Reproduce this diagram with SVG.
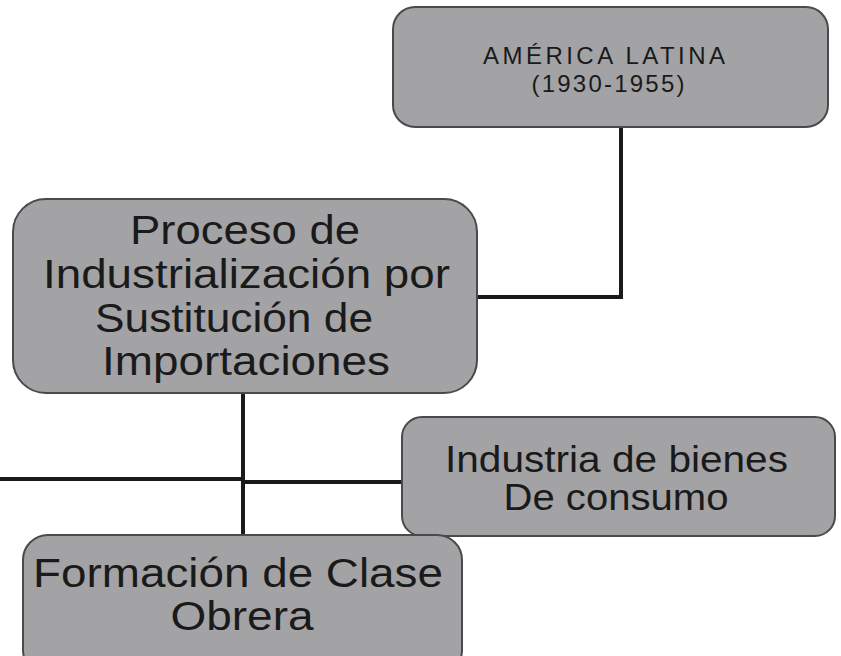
<svg xmlns="http://www.w3.org/2000/svg" width="841" height="656" viewBox="0 0 841 656">
  <style>
    .box { fill: #a3a3a5; stroke: #4a4a4a; stroke-width: 2; }
    .lbl { font-family: "Liberation Sans", Arial, sans-serif; fill: #1a1a1a; text-anchor: middle; }
    .big { font-size: 40px; }
    .mid { font-size: 37px; }
    .small { font-size: 24px; }
    .conn { fill: none; stroke: #1a1a1a; stroke-width: 4; }
  </style>
  <rect width="841" height="656" fill="#ffffff"/>
  <g id="connectors">
    <path class="conn" d="M621 127 V297 H477"/>
    <path class="conn" d="M243 393 V536"/>
    <path class="conn" d="M0 479 H243"/>
    <path class="conn" d="M243 482 H402"/>
  </g>
  <g id="node-america-latina">
    <rect class="box" x="393" y="7" width="435" height="120" rx="22"/>
    <text class="lbl small" x="604" y="64" textLength="242" lengthAdjust="spacing">AMÉRICA LATINA</text>
    <text class="lbl small" x="608" y="92" textLength="153" lengthAdjust="spacing">(1930-1955)</text>
  </g>
  <g id="node-proceso">
    <rect class="box" x="13" y="199" width="464" height="194" rx="33"/>
    <text class="lbl big" x="245" y="244" textLength="230" lengthAdjust="spacingAndGlyphs">Proceso de</text>
    <text class="lbl big" x="246.5" y="288" textLength="407" lengthAdjust="spacingAndGlyphs">Industrialización por</text>
    <text class="lbl big" x="234" y="332" textLength="278" lengthAdjust="spacingAndGlyphs">Sustitución de</text>
    <text class="lbl big" x="246" y="375" textLength="288" lengthAdjust="spacingAndGlyphs">Importaciones</text>
  </g>
  <g id="node-industria">
    <rect class="box" x="402" y="417" width="433" height="119" rx="20"/>
    <text class="lbl mid" x="616.5" y="472" textLength="343" lengthAdjust="spacingAndGlyphs">Industria de bienes</text>
    <text class="lbl mid" x="616" y="510" textLength="225" lengthAdjust="spacingAndGlyphs">De consumo</text>
  </g>
  <g id="node-formacion">
    <rect class="box" x="23" y="535" width="439" height="140" rx="25"/>
    <text class="lbl big" x="238" y="587" textLength="410" lengthAdjust="spacingAndGlyphs">Formación de Clase</text>
    <text class="lbl big" x="242" y="630" textLength="143" lengthAdjust="spacingAndGlyphs">Obrera</text>
  </g>
</svg>
